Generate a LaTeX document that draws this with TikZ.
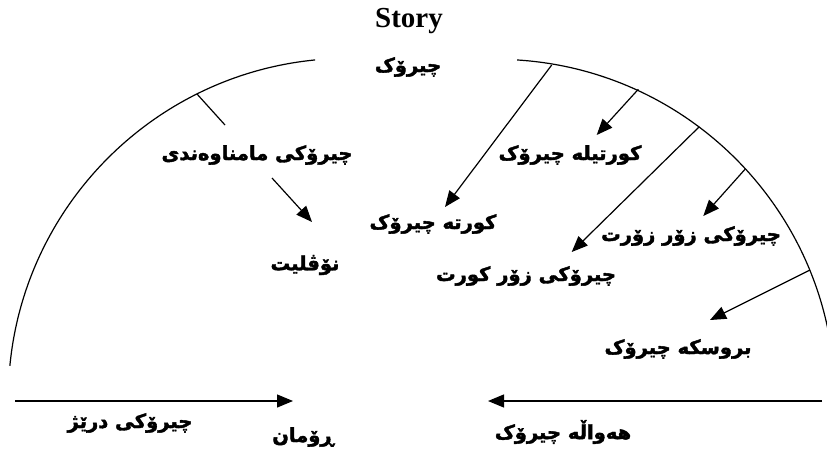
\documentclass[tikz,border=0pt]{standalone}
\usepackage{fontspec}
\setmainfont{Liberation Serif}
\newfontfamily\kurdfont[Script=Arabic, BoldFeatures={FakeBold=2}]{DejaVu Sans}
\usetikzlibrary{arrows.meta}
\TeXXeTstate=1
\newcommand{\kurd}[1]{{\kurdfont\bfseries\beginR #1\endR}}

\begin{document}
\begin{tikzpicture}[x=1pt,y=-1pt,
  line/.style={line width=1.2pt},
  arr/.style={line width=1.2pt,-{Triangle[length=16pt,width=13pt]}},
  lbl/.style={font=\fontsize{19.5}{22}\selectfont, inner sep=0pt}]
  \useasboundingbox (0,0) rectangle (827,455);
  \clip (0,0) rectangle (827,455);

  % Left arc
  \begin{scope}
    \clip (0,0) rectangle (315,365);
    \draw[line] (348.7,398.7) circle[radius=340.4];
  \end{scope}

  % Right arc
  \begin{scope}
    \clip (517,0) rectangle (827,455);
    \draw[line] (495.7,398.6) circle[radius=339.3];
  \end{scope}

  % Titles
  \node[font=\fontsize{29}{32}\selectfont\bfseries, inner sep=0pt] (story) at (409,21) {Story};
  \node[lbl] (cirok) at (408,67) {\kurd{چیرۆک}};

  % Labels
  \node[lbl] (mamnawandi) at (257,155) {\kurd{چیرۆکی مامناوەندی}};
  \node[lbl] (novelet) at (305,265) {\kurd{نۆڤلیت}};
  \node[lbl] (kurta) at (433,224) {\kurd{کورتە چیرۆک}};
  \node[lbl] (kurtila) at (570,155) {\kurd{کورتیلە چیرۆک}};
  \node[lbl] (zorzort) at (691,236) {\kurd{چیرۆکی زۆر زۆرت}};
  \node[lbl] (zorkurt) at (526,276) {\kurd{چیرۆکی زۆر کورت}};
  \node[lbl] (brusqa) at (678,349) {\kurd{بروسکە چیرۆک}};
  \node[lbl] (direzh) at (130,423) {\kurd{چیرۆکی درێژ}};
  \node[lbl] (roman) at (303,437) {\kurd{ڕۆمان}};
  \node[lbl] (hawala) at (563,432) {\kurd{هەواڵە چیرۆک}};

  % Points on the arcs and arrow tips
  \coordinate (m1) at (197,94);   \coordinate (m2) at (225,125);
  \coordinate (n1) at (272,178);  \coordinate (n2) at (312,222);
  \coordinate (a1) at (551.7,65); \coordinate (b1) at (445,207);
  \coordinate (a2) at (638.3,89.3); \coordinate (b2) at (596.7,135);
  \coordinate (a3) at (699.3,126.7); \coordinate (b3) at (571.7,252);
  \coordinate (a4) at (745,169.3); \coordinate (b4) at (703.3,216);
  \coordinate (a5) at (810,270); \coordinate (b5) at (710,320);

  \draw[line] (m1) -- (m2);
  \draw[arr] (n1) -- (n2);
  \draw[arr] (a1) -- (b1);
  \draw[arr] (a2) -- (b2);
  \draw[arr] (a3) -- (b3);
  \draw[arr] (a4) -- (b4);
  \draw[arr] (a5) -- (b5);

  % Bottom arrows
  \coordinate (l1) at (15,401);  \coordinate (l2) at (293,401);
  \coordinate (r1) at (822,401); \coordinate (r2) at (488,401);
  \draw[arr] (l1) -- (l2);
  \draw[arr] (r1) -- (r2);
\end{tikzpicture}
\end{document}
